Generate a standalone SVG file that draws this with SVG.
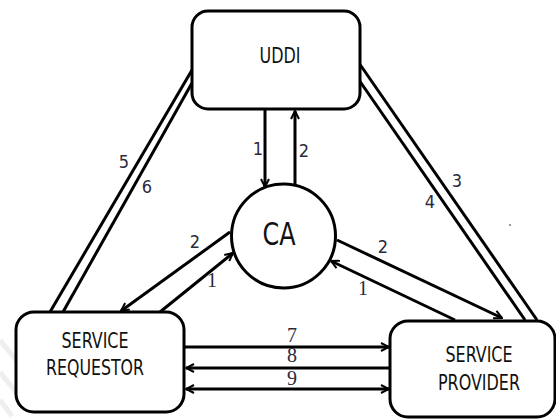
<svg xmlns="http://www.w3.org/2000/svg" width="556" height="419" viewBox="0 0 556 419">
<style>
.box{fill:#fff;stroke:#000;stroke-width:3}
.ln{fill:none;stroke:#000;stroke-width:3}
.tx{font-family:"Liberation Sans Narrow","DejaVu Sans Condensed","Liberation Sans",sans-serif;fill:#111;text-anchor:middle}
.num{font-family:"DejaVu Sans Condensed","Liberation Sans Narrow",sans-serif;font-size:18px;fill:#2a2a3a;text-anchor:middle}
.nums{font-family:"Liberation Serif",serif;font-size:20px;fill:#2a2a3a;text-anchor:middle}
</style>
<defs>
<marker id="ah" viewBox="0 0 10 10" refX="9" refY="5" markerWidth="10" markerHeight="10" markerUnits="userSpaceOnUse" orient="auto">
<path d="M1,1 L9,5 L1,9" fill="none" stroke="#000" stroke-width="2"/>
</marker>
<marker id="ahs" viewBox="0 0 10 10" refX="9" refY="5" markerWidth="10" markerHeight="10" markerUnits="userSpaceOnUse" orient="auto-start-reverse">
<path d="M1,1 L9,5 L1,9" fill="none" stroke="#000" stroke-width="2"/>
</marker>
</defs>
<rect width="556" height="419" fill="#fff"/>
<g id="watermark" stroke="#eeeeee" stroke-width="5" fill="none">
<path d="M0,340 L40,390"/>
<path d="M0,372 L30,410"/>
<path d="M0,400 L12,416"/>
</g>
<g id="connectors">
<path class="ln" d="M192,70 L50,312"/>
<path class="ln" d="M192,83 L63,312"/>
<path class="ln" d="M359,63 L537,320"/>
<path class="ln" d="M359,80 L525,320"/>
<path class="ln" d="M265,109 L265,187" marker-end="url(#ah)"/>
<path class="ln" d="M295,185 L295,111" marker-end="url(#ah)"/>
<path class="ln" d="M230,232 L121,311" marker-end="url(#ah)"/>
<path class="ln" d="M160,312 L233,253" marker-end="url(#ah)"/>
<path class="ln" d="M337,240 L502,318" marker-end="url(#ah)"/>
<path class="ln" d="M455,320 L331,261" marker-end="url(#ah)"/>
<path class="ln" d="M184,347 L389,347" marker-end="url(#ah)"/>
<path class="ln" d="M390,368 L186,368" marker-end="url(#ah)"/>
<path class="ln" d="M186,389 L389,389" marker-start="url(#ahs)" marker-end="url(#ah)"/>
<circle cx="510" cy="225" r="1" fill="#777"/>
</g>
<g id="labels">
<text class="num" x="258" y="155">1</text>
<text class="num" x="304" y="157">2</text>
<text class="num" x="195" y="248">2</text>
<text class="nums" x="212" y="287">1</text>
<text class="num" x="383" y="253">2</text>
<text class="nums" x="363" y="295">1</text>
<text class="num" x="457" y="187">3</text>
<text class="num" x="430" y="208">4</text>
<text class="num" x="124" y="168">5</text>
<text class="num" x="147" y="193">6</text>
<text class="nums" x="292" y="342">7</text>
<text class="nums" x="292" y="362">8</text>
<text class="nums" x="292" y="385">9</text>
</g>
<g id="uddi">
<rect class="box" x="192" y="11" width="168" height="98" rx="16"/>
<text class="tx" x="280" y="63" font-size="21" textLength="41" lengthAdjust="spacingAndGlyphs">UDDI</text>
</g>
<g id="ca">
<circle class="box" cx="283.5" cy="236" r="52"/>
<text class="tx" x="279" y="245" font-size="32" textLength="33" lengthAdjust="spacingAndGlyphs">CA</text>
</g>
<g id="requestor">
<rect class="box" x="16" y="312" width="168" height="100" rx="18"/>
<text class="tx" x="95" y="348" font-size="21" textLength="67" lengthAdjust="spacingAndGlyphs">SERVICE</text>
<text class="tx" x="95" y="375" font-size="21" textLength="98" lengthAdjust="spacingAndGlyphs">REQUESTOR</text>
</g>
<g id="provider">
<rect class="box" x="390" y="321" width="165" height="96" rx="18"/>
<text class="tx" x="479" y="362" font-size="21" textLength="67" lengthAdjust="spacingAndGlyphs">SERVICE</text>
<text class="tx" x="479" y="390" font-size="21" textLength="82" lengthAdjust="spacingAndGlyphs">PROVIDER</text>
</g>
</svg>
